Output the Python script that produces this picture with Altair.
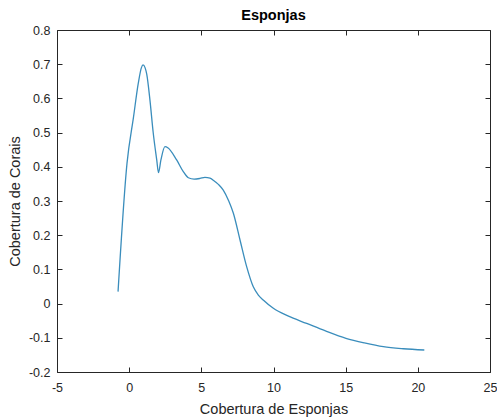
import altair as alt
import pandas as pd

# Data
esponjas = [-0.77, -0.15, 0.3, 0.63, 0.85, 0.96, 1.1, 1.22, 1.44, 1.67, 1.91, 2.03,
            2.2, 2.48, 2.7, 3.29, 3.75, 4.1, 4.5, 4.91, 5.25, 5.6, 5.85, 6.2, 6.52,
            6.9, 7.22, 7.68, 8.14, 8.6, 8.95, 9.29, 9.99, 11.0, 12.3, 13.6, 15.02,
            16.3, 17.61, 19.0, 20.45]
corais = [0.035, 0.41, 0.545, 0.644, 0.69, 0.698, 0.69, 0.67, 0.595, 0.498, 0.42, 0.383,
          0.42, 0.459, 0.455, 0.42, 0.386, 0.368, 0.364, 0.366, 0.369, 0.367, 0.36, 0.348, 0.332,
          0.30, 0.264, 0.186, 0.108, 0.049, 0.025, 0.0105, -0.0137, -0.036, -0.058, -0.08, -0.1015,
          -0.115, -0.126, -0.132, -0.1357]

x_ticks = [-5, 0, 5, 10, 15, 20, 25]
y_ticks = [-0.2, -0.1, 0, 0.1, 0.2, 0.3, 0.4, 0.5, 0.6, 0.7, 0.8]

df = pd.DataFrame({"x": esponjas, "y": corais})

FONT = "Liberation Sans"
AX = "#262626"

xscale = alt.Scale(domain=[-5, 25], nice=False, zero=False)
yscale = alt.Scale(domain=[-0.2, 0.8], nice=False, zero=False)

common_axis = dict(grid=False, domain=False, tickSize=5, tickColor=AX, offset=-5,
                   labelFont=FONT, labelFontSize=12.5, labelColor=AX, labelOverlap=False,
                   labelFlush=False,
                   titleFont=FONT, titleFontSize=14.5, titleColor=AX, titleFontWeight="normal")

lab_expr = "(datum.value < 0 ? '-' : '') + format(abs(datum.value), '.1~f')"

main = alt.Chart(df).mark_line(color="#3A8DBC", strokeWidth=1.3, interpolate="monotone").encode(
    x=alt.X("x:Q", scale=xscale,
            axis=alt.Axis(orient="bottom", values=x_ticks, labelPadding=9, labelExpr=lab_expr,
                          title="Cobertura de Esponjas", titleY=46, titleBaseline="alphabetic",
                          **common_axis)),
    y=alt.Y("y:Q", scale=yscale,
            axis=alt.Axis(orient="left", values=y_ticks, labelPadding=7, labelExpr=lab_expr,
                          title="Cobertura de Corais", titleX=-46.5, titleY=171,
                          titleBaseline="middle", **common_axis)),
)

box_axis = dict(grid=False, domain=False, tickSize=5, tickColor=AX, offset=-5,
                labels=False, title=None)

ticks = alt.Chart(df).mark_line(strokeOpacity=0).encode(
    x=alt.X("x:Q", scale=xscale, axis=alt.Axis(orient="top", values=x_ticks, **box_axis)),
    y=alt.Y("y:Q", scale=yscale, axis=alt.Axis(orient="right", values=y_ticks, **box_axis)),
)

chart = alt.layer(main, ticks).resolve_axis(x="independent", y="independent").properties(
    width=433, height=342,
    autosize=alt.AutoSizeParams(type="none"),
    padding={"left": 57, "top": 30, "right": 7, "bottom": 47},
    title=alt.TitleParams("Esponjas", font=FONT, fontSize=14.5, fontWeight="bold",
                          color="#000000", anchor="middle", offset=1),
    background="white",
).configure_view(stroke=AX, strokeWidth=1)

chart.save("out.html", embed_options={"renderer": "svg", "actions": False})
